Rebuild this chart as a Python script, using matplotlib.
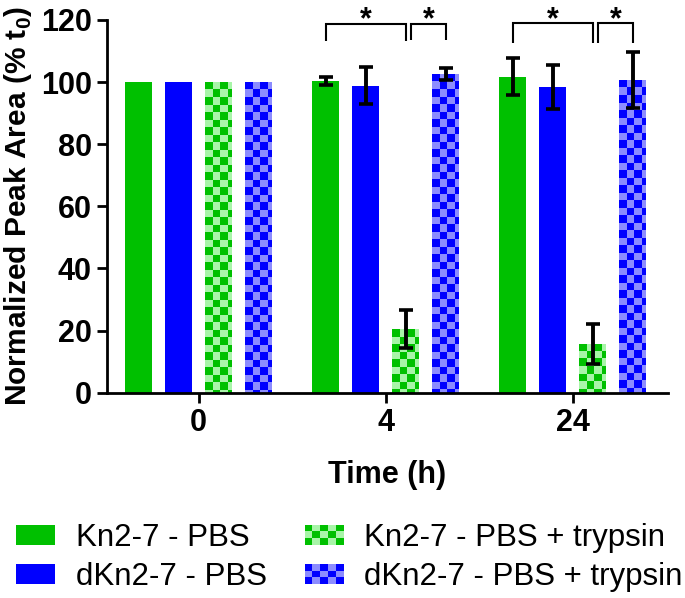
import numpy as np
import matplotlib
matplotlib.use('Agg')
import matplotlib.pyplot as plt
from matplotlib.patches import Rectangle, Patch
from matplotlib.legend_handler import HandlerBase
from matplotlib.colors import to_rgb

plt.rcParams['font.family'] = ['Liberation Sans', 'DejaVu Sans']
plt.rcParams['mathtext.fontset'] = 'custom'
plt.rcParams['mathtext.rm'] = 'Liberation Sans'
plt.rcParams['mathtext.bf'] = 'Liberation Sans:bold'

# ---------------- data ----------------
times = ['0', '4', '24']
series = ['Kn2-7 - PBS', 'dKn2-7 - PBS', 'Kn2-7 - PBS + trypsin', 'dKn2-7 - PBS + trypsin']
kn_pbs = [100, 100.3, 101.8]
kn_pbs_err = [0, 1.3, 6.0]
dkn_pbs = [100, 98.8, 98.4]
dkn_pbs_err = [0, 6.0, 7.0]
kn_tryp = [100, 20.5, 15.8]
kn_tryp_err = [0, 6.2, 6.4]
dkn_tryp = [100, 102.6, 100.7]
dkn_tryp_err = [0, 2.0, 9.0]
# significance brackets: (group index, bar a, bar b)
sig_pairs = [(1, 0, 2), (1, 2, 3), (2, 0, 2), (2, 2, 3)]
sig_leg = [113.3, 113.6, 112.5, 112.5]
sig_top = [118.7, 118.7, 118.9, 118.9]

values = [kn_pbs, dkn_pbs, kn_tryp, dkn_tryp]
errors = [kn_pbs_err, dkn_pbs_err, kn_tryp_err, dkn_tryp_err]

GREEN = '#00c000'
LGREEN = '#a8f5a8'
BLUE = '#0000ff'
LBLUE = '#8c8cff'
dark_cols = [GREEN, BLUE, GREEN, BLUE]
light_cols = [None, None, LGREEN, LBLUE]

fig = plt.figure(figsize=(6.85, 5.98), dpi=100)
ax = fig.add_axes([0.1562, 0.3433, 0.8190, 0.6233])

x = np.arange(len(times))
offsets = [-0.321, -0.107, 0.107, 0.321]
width = 0.143
cw, ch = 0.0402, 2.415


def add_checker(ax, rect, dark, light):
    x0 = rect.get_x()
    w = rect.get_width()
    top = rect.get_height()
    nx = int(np.ceil(w / cw))
    ny = int(np.ceil(top / ch))
    ii, jj = np.meshgrid(np.arange(nx), np.arange(ny))
    mask = ((ii + jj) % 2 == 0)[..., None]
    img = np.where(mask, np.array(to_rgb(dark)), np.array(to_rgb(light)))
    im = ax.imshow(img, extent=(x0, x0 + nx * cw, top - ny * ch, top), origin='upper',
                   interpolation='nearest', aspect='auto', zorder=1.5)
    im.set_clip_path(rect)


for k in range(4):
    xs = x + offsets[k]
    if light_cols[k] is None:
        bars = ax.bar(xs, values[k], width, color=dark_cols[k], edgecolor='none', zorder=1)
    else:
        bars = ax.bar(xs, values[k], width, color=light_cols[k], edgecolor='none', zorder=1)
        for r in bars:
            add_checker(ax, r, dark_cols[k], light_cols[k])
    e = np.array(errors[k])
    m = e > 0
    ax.errorbar(xs[m], np.array(values[k])[m], yerr=e[m], fmt='none', ecolor='black',
                elinewidth=2.8, capsize=4.7, capthick=2.6, zorder=3)

gap = 0.03
for (g, a, b), leg, top in zip(sig_pairs, sig_leg, sig_top):
    xa = g + offsets[a]
    xb = g + offsets[b]
    if a == 2:
        xa += gap
    ax.plot([xa, xa, xb, xb], [leg, top, top, leg], color='black', lw=1.5,
            clip_on=False, zorder=4, solid_capstyle='butt', solid_joinstyle='miter')
    ax.text((xa + xb) / 2, 117.3, '*', ha='center', va='baseline', fontsize=22,
            fontweight='bold', clip_on=False)

ax.set_xlim(-0.49, 2.51)
ax.set_ylim(0, 120)
ax.set_yticks(np.arange(0, 121, 20))
ax.set_xticks(x, times)
for s in ['top', 'right']:
    ax.spines[s].set_visible(False)
for s in ['left', 'bottom']:
    ax.spines[s].set_linewidth(2)
ax.tick_params(axis='both', width=2, length=7, labelsize=22)
ax.tick_params(axis='y', pad=4)
ax.tick_params(axis='x', pad=4)
for lab in ax.get_xticklabels() + ax.get_yticklabels():
    lab.set_fontweight('bold')
ax.set_ylabel(r'Normalized Peak Area (% t$_\mathbf{0}$)', fontsize=21.5, fontweight='bold', labelpad=5)
ax.set_xlabel('Time (h)', fontsize=22, fontweight='bold', labelpad=16)


class CheckerHandler(HandlerBase):
    def __init__(self, dark, light, nx=5, ny=3):
        super().__init__()
        self.dark, self.light, self.nx, self.ny = dark, light, nx, ny

    def create_artists(self, legend, orig_handle, xdescent, ydescent, width, height, fontsize, trans):
        arts = []
        w = width / self.nx
        h = height / self.ny
        for i in range(self.nx):
            for j in range(self.ny):
                c = self.dark if (i + (self.ny - 1 - j)) % 2 == 0 else self.light
                arts.append(Rectangle((-xdescent + i * w, -ydescent + j * h), w, h,
                                      facecolor=c, edgecolor='none', transform=trans))
        return arts


handles = [Patch(facecolor=GREEN, edgecolor='none'), Patch(facecolor=BLUE, edgecolor='none'),
           Patch(facecolor=LGREEN, edgecolor='none'), Patch(facecolor=LBLUE, edgecolor='none')]
hmap = {handles[2]: CheckerHandler(GREEN, LGREEN), handles[3]: CheckerHandler(BLUE, LBLUE)}
fig.legend(handles, series, ncol=2, loc='center left', bbox_to_anchor=(16 / 685, 1 - 557.5 / 598),
           frameon=False, fontsize=22.5, handlelength=1.25, handleheight=0.6, handletextpad=0.67,
           columnspacing=1.2, labelspacing=0.3, borderpad=0, borderaxespad=0, handler_map=hmap)

fig.savefig('out.png', dpi=100)
